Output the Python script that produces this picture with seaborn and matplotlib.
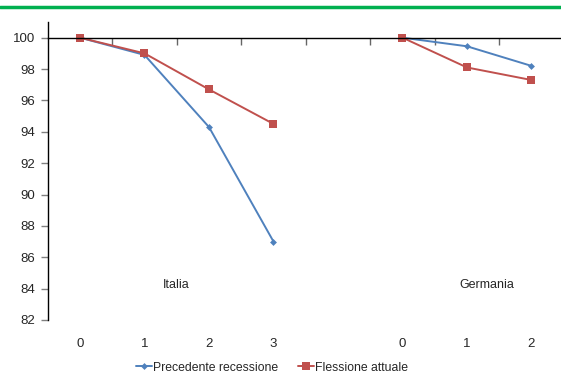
import matplotlib
matplotlib.use("Agg")
from matplotlib import pyplot as plt
from matplotlib.lines import Line2D
import seaborn as sns
import numpy as np
import pandas as pd

# data
italia_steps = [0, 1, 2, 3]
germania_steps = [0, 1, 2]
italia_precedente = [100.0, 98.9, 94.3, 87.0]
italia_flessione = [100.0, 99.0, 96.7, 94.5]
germania_precedente = [100.0, 99.45, 98.2]
germania_flessione = [100.0, 98.1, 97.3]
series_names = ["Precedente recessione", "Flessione attuale"]
countries = ["Italia", "Germania"]
y_ticks = list(range(82, 101, 2))

sns.set_style("white")
plt.rcParams['font.family'] = ['Liberation Sans Narrow', 'Liberation Sans', 'DejaVu Sans']
plt.rcParams['font.size'] = 9

# one slot per category, with an empty slot between the two countries
ita_pos = list(range(len(italia_steps)))
ger_pos = [len(italia_steps) + 1 + i for i in range(len(germania_steps))]
labels = [str(s) for s in italia_steps] + [""] + [str(s) for s in germania_steps]

rows = []
for p, a, b in zip(ita_pos, italia_precedente, italia_flessione):
    rows.append(dict(pos=p, value=a, serie=series_names[0], paese=countries[0]))
    rows.append(dict(pos=p, value=b, serie=series_names[1], paese=countries[0]))
for p, a, b in zip(ger_pos, germania_precedente, germania_flessione):
    rows.append(dict(pos=p, value=a, serie=series_names[0], paese=countries[1]))
    rows.append(dict(pos=p, value=b, serie=series_names[1], paese=countries[1]))
df = pd.DataFrame(rows)

palette = {series_names[0]: "#4F81BD", series_names[1]: "#C0504D"}
markers = {series_names[0]: "D", series_names[1]: "s"}
sizes = {series_names[0]: 3.5, series_names[1]: 5.5}

fig = plt.figure(figsize=(5.61, 3.72), dpi=100)
ax = fig.add_axes([0.0851, 0.1398, 0.9198, 0.8011])

for paese in countries:
    for serie in series_names:
        d = df[(df.paese == paese) & (df.serie == serie)]
        sns.lineplot(data=d, x="pos", y="value", color=palette[serie],
                     marker=markers[serie], markersize=sizes[serie],
                     markeredgewidth=0, linewidth=1.4, ax=ax, legend=False)

n = len(labels)
ax.set_xlim(-0.5, n - 0.5)
ax.set_ylim(82, 101)
ax.set_yticks(y_ticks)
ax.set_xlabel("")
ax.set_ylabel("")

ax.spines["top"].set_visible(False)
ax.spines["right"].set_visible(False)
ax.spines["bottom"].set_position(("data", 100))
ax.spines["left"].set_linewidth(1.0)
ax.spines["bottom"].set_linewidth(1.0)
ax.spines["left"].set_color("black")
ax.spines["bottom"].set_color("black")

ax.set_xticks(np.arange(0.5, n - 0.5, 1.0))
ax.set_xticklabels([])
ax.tick_params(axis="x", bottom=True, direction="out", length=5, width=1,
               color="#666666")
ax.tick_params(axis="y", left=True, direction="out", length=5, width=1,
               color="#808080", labelsize=9.5, pad=4)

# category labels along the bottom
trans = matplotlib.transforms.blended_transform_factory(ax.transData, ax.transAxes)
for i, lab in enumerate(labels):
    ax.text(i, -0.082, lab, transform=trans, ha="center", va="center", fontsize=9.5)

ax.text(1.5, 84.2, countries[0], ha="center", va="center", fontsize=9)
ax.text(6.3, 84.2, countries[1], ha="center", va="center", fontsize=9)

handles = [Line2D([], [], color=palette[s], marker=markers[s], markersize=sizes[s],
                  markeredgewidth=0, linewidth=1.4) for s in series_names]
fig.legend(handles, series_names, loc="center", bbox_to_anchor=(0.485, 0.012),
           ncol=2, frameon=False, fontsize=8.8, handlelength=1.3,
           handletextpad=0.1, columnspacing=1.6)

# green rule at the top
fig.add_artist(Line2D([0, 1], [0.981, 0.981], transform=fig.transFigure,
                      color="#00B050", linewidth=2.5))

fig.savefig("out.png", dpi=100)
